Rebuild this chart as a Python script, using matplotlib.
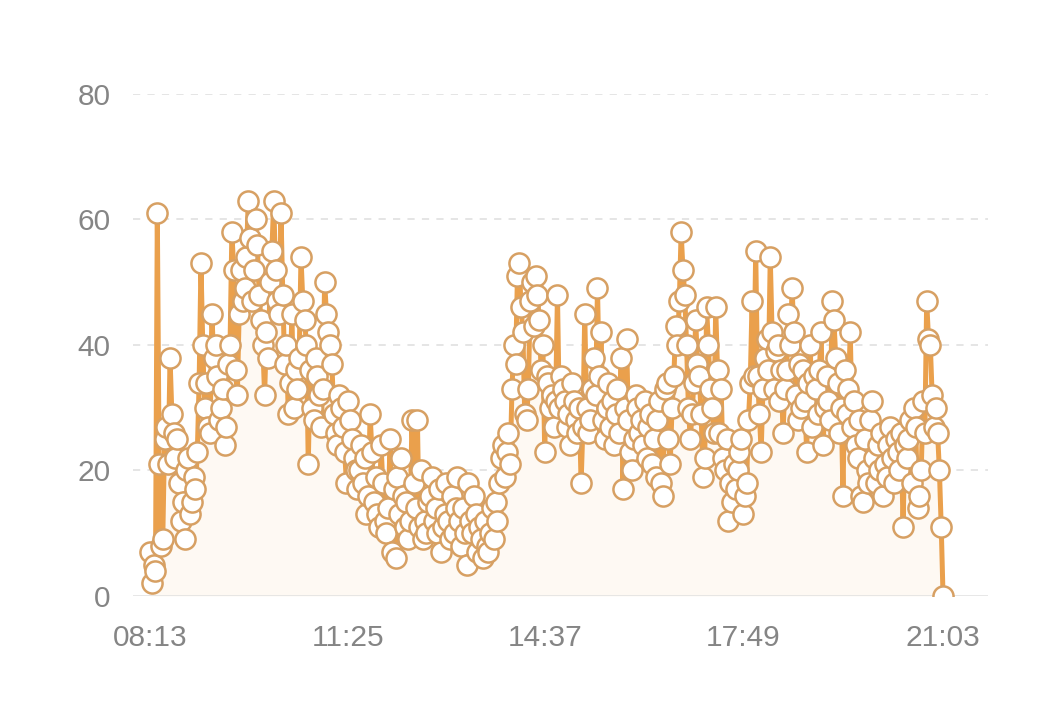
import numpy as np
import matplotlib
matplotlib.use("Agg")
import matplotlib.pyplot as plt

start_label = "08:13"
end_label = "21:03"
tick_labels = ["08:13", "11:25", "14:37", "17:49", "21:03"]
y_ticks = [0, 20, 40, 60, 80]

values = [
    # 08:13 - early rise
    7, 2, 5, 4, 61, 21, 8, 9, 25, 27, 21, 38, 29, 26, 22, 25, 18, 12, 15, 9,
    20, 22, 13, 15, 19, 17, 23, 34, 53, 40, 30, 34, 27, 26, 45, 38, 40, 35, 28, 30,
    33, 24, 27, 37, 40, 58, 52, 36, 32, 45,
    # late-morning peak
    52, 47, 49, 54, 63, 57, 47, 52, 60, 56, 48, 44, 40, 32, 42, 38, 50, 55, 63, 52,
    47, 45, 61, 48, 37, 40, 29, 34, 45, 30, 36, 33, 38,
    54, 47, 44, 40, 21, 36, 30, 28, 38, 35, 32, 27, 33, 50, 45, 42, 40, 37, 29, 26, 24, 32,
    30, 27, 23, 18, 31, 28, 25, 22, 20, 17, 20, 24, 18, 22, 13, 16, 29, 23, 15, 19, 13, 11,
    # midday low
    24, 18, 12, 10, 14, 25, 7, 17, 6, 19, 13, 22, 16, 11, 15, 9, 12, 28, 18, 14, 28, 11,
    20, 9, 12, 10, 15, 16, 19, 12, 14, 10, 17, 7, 11, 13, 18, 12, 9, 16, 10, 14, 19, 12,
    8, 14, 10, 5, 18, 12, 10, 16, 13, 7, 11, 9, 6, 12, 8, 7, 10, 14, 9, 15, 12, 18,
    # afternoon
    22, 24, 19, 23, 26, 21, 33, 40, 37, 51, 53, 46, 42, 29, 28, 33, 47, 50, 43, 51, 48, 44,
    36, 40, 23, 35, 34, 30, 32, 27, 31, 48, 30, 35, 33, 31, 27, 29, 24, 34, 31, 28, 26, 30,
    18, 27, 45, 30, 26, 28, 33, 38, 32, 49, 35, 42, 28, 25, 30, 34, 27, 31, 24, 29, 33, 26,
    38, 17, 30, 41, 28, 23, 20, 25, 32, 30, 26, 28, 24, 31, 22, 27, 29, 21, 25, 19, 28, 31,
    18, 16, 33, 34, 25, 21, 30, 35, 43, 40, 47, 58, 52, 48, 40, 30, 25, 29, 34, 44, 37, 35,
    29, 19, 22, 46, 40, 33, 30, 26, 46, 36, 26, 33, 22, 20, 25, 12, 18, 15, 21, 17, 20, 23,
    25, 13, 16, 18, 28, 34, 47, 35, 55, 35, 29, 23, 33, 38, 41, 36, 54, 42, 33, 39, 40, 31,
    # evening
    36, 26, 33, 36, 45, 40, 49, 42, 32, 28, 37, 30, 36, 31, 23, 34, 40, 27, 35, 33, 29, 36,
    42, 24, 30, 35, 31, 28, 47, 44, 38, 34, 26, 30, 16, 36, 29, 33, 42, 27, 31, 24, 22, 28,
    16, 15, 25, 20, 18, 28, 31, 22, 18, 24, 20, 26, 16, 21, 19, 24, 27, 22, 18, 25, 23, 20,
    26, 11, 24, 22, 25, 28, 18, 30, 27, 14, 16, 20, 31, 26, 47, 41, 40, 32, 27, 30, 26, 20, 11, 0,
]


def to_min(s):
    h, m = s.split(":")
    return int(h) * 60 + int(m)


t0 = to_min(start_label)
span = to_min(end_label) - t0
times = np.linspace(0, span, len(values))
tick_pos = [to_min(s) - t0 for s in tick_labels]

plt.rcParams['font.family'] = ['Liberation Sans', 'DejaVu Sans']

fig = plt.figure(figsize=(10.5, 7.12), dpi=100)
ax = fig.add_axes([0.1267, 0.163, 0.8143, 0.705])

line_color = '#EAA04C'
edge_color = '#D7A063'

ax.fill_between(times, values, 0, color='#FEF9F3', zorder=1, linewidth=0)
ax.plot(times, values, color=line_color, linewidth=3.6, zorder=3, solid_joinstyle='round')
ax.plot(times, values, linestyle='none', marker='o', markersize=14.5,
        markerfacecolor='white', markeredgecolor=edge_color, markeredgewidth=1.8, zorder=4)

ax.set_xlim(-16.5, 813.7)
ax.set_ylim(0, 80)
ax.set_yticks(y_ticks)
ax.set_xticks(tick_pos)
ax.set_xticklabels(tick_labels)

for y in y_ticks[1:]:
    ax.axhline(y, color='#E3E3E3', linewidth=1.3, linestyle=(0, (4, 4)), zorder=0)
ax.axhline(0, color='#E0E0E0', linewidth=1.8, zorder=2)

for s in ax.spines.values():
    s.set_visible(False)
ax.tick_params(axis='both', length=0, labelsize=21.5, colors='#858585')
ax.tick_params(axis='y', pad=16)
ax.tick_params(axis='x', pad=20)

fig.savefig('out.png', dpi=100, facecolor='white')
